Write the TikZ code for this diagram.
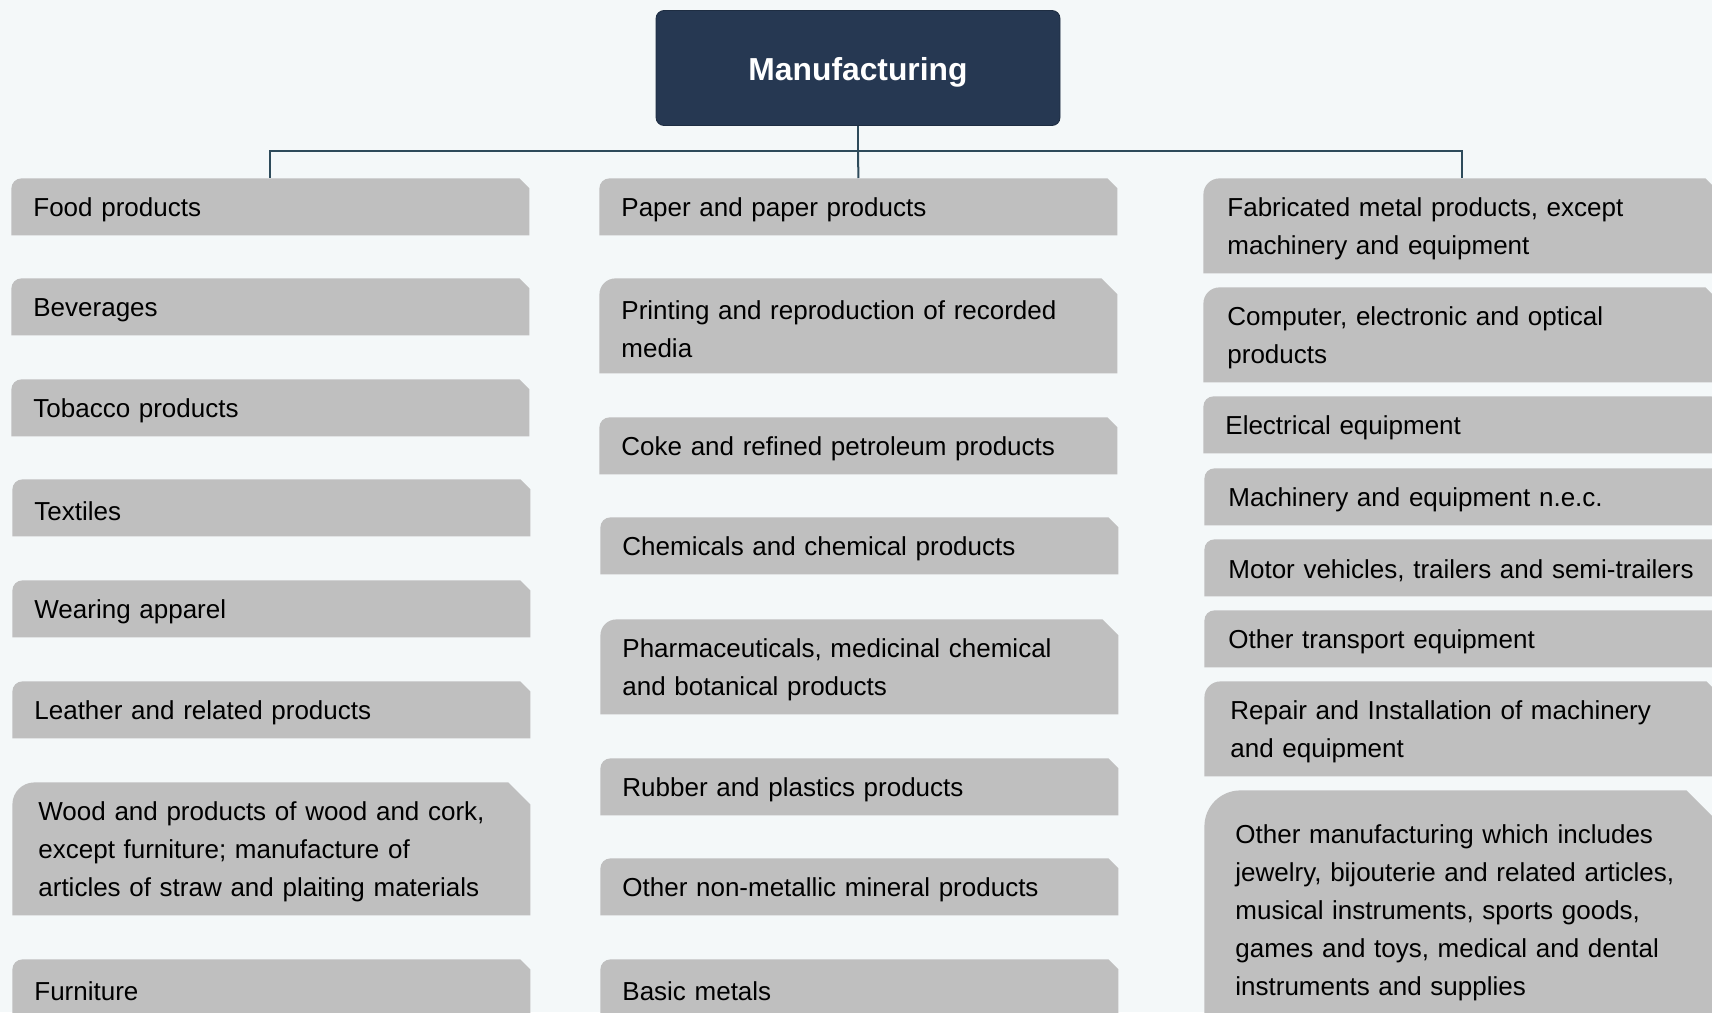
\documentclass[tikz,border=0pt]{standalone}
\usepackage{fontspec}
\setmainfont{Liberation Sans}
\usepackage{tikz}
\definecolor{pagebg}{HTML}{F4F8F9}
\definecolor{boxgray}{HTML}{BFBFBF}
\definecolor{titlecol}{HTML}{263852}
\definecolor{linecol}{HTML}{2E4B5B}
\tikzset{
	snip/.store in=\snipsize, snip=5pt,
	catbox/.style={anchor=north west, inner xsep=11pt, inner ysep=2pt, minimum width=259pt, text width=237pt, text height=12.6pt, align=left, font=\fontsize{13pt}{19pt}\selectfont,
		path picture={\fill[boxgray] (path picture bounding box.south west) -- ([yshift=-\snipsize]path picture bounding box.north west) arc[start angle=180,end angle=90,radius=\snipsize] -- ([xshift=-\snipsize]path picture bounding box.north east) -- ([yshift=-\snipsize]path picture bounding box.north east) -- (path picture bounding box.south east) -- cycle;}},
	rightbox/.style={catbox, inner xsep=12pt, text width=235pt},
	titlebox/.style={fill=titlecol, draw=titlecol!80!black, rounded corners=4pt, minimum width=202pt, minimum height=57.5pt, text height=15.8pt, text=white, font=\bfseries\fontsize{15.9pt}{19pt}\selectfont},
	link/.style={draw=linecol, line width=1pt},
}
\begin{document}
\begin{tikzpicture}[x=0.5pt,y=-0.5pt]
	\clip (0,0) rectangle (1712,1012);
	\fill[pagebg] (0,0) rectangle (1712,1012);
	\node[titlebox] (title) at (858,68) {Manufacturing};
	% left column
	\node[catbox, minimum height=28.5pt] (food) at (11,178) {Food products};
	\node[catbox, minimum height=28.5pt] (bev) at (11,278) {Beverages};
	\node[catbox, minimum height=28.5pt] (tob) at (11,379) {Tobacco products};
	\node[catbox, minimum height=28.5pt] (tex) at (12,479) {Textiles};
	\node[catbox, minimum height=28.5pt] (wear) at (12,580) {Wearing apparel};
	\node[catbox, minimum height=28.5pt] (leath) at (12,681) {Leather and related products};
	\node[catbox, minimum height=66.5pt, snip=11pt, inner xsep=13pt, text width=233pt] (wood) at (12,782) {Wood and products of wood and cork,\\except furniture; manufacture of\\articles of straw and plaiting materials};
	\node[catbox, minimum height=28.5pt] (furn) at (12,959) {Furniture};
	% middle column
	\node[catbox, minimum height=28.5pt] (paper) at (599,178) {Paper and paper products};
	\node[catbox, minimum height=47.5pt, snip=8pt] (print) at (599,278) {Printing and reproduction of recorded\\media};
	\node[catbox, minimum height=28.5pt] (coke) at (599,417) {Coke and refined petroleum products};
	\node[catbox, minimum height=28.5pt] (chem) at (600,517) {Chemicals and chemical products};
	\node[catbox, minimum height=47.5pt, snip=8pt] (pharma) at (600,619) {Pharmaceuticals, medicinal chemical\\and botanical products};
	\node[catbox, minimum height=28.5pt] (rubber) at (600,758) {Rubber and plastics products};
	\node[catbox, minimum height=28.5pt] (nonmet) at (600,858) {Other non-metallic mineral products};
	\node[catbox, minimum height=28.5pt] (basic) at (600,959) {Basic metals};
	% right column
	\node[rightbox, minimum height=47.5pt, snip=8pt] (fab) at (1203,178) {Fabricated metal products, except\\machinery and equipment};
	\node[rightbox, minimum height=47.5pt, snip=8pt] (comp) at (1203,287) {Computer, electronic and optical\\products};
	\node[rightbox, minimum height=28.5pt, inner xsep=11pt, text width=237pt] (elec) at (1203,396) {Electrical equipment};
	\node[rightbox, minimum height=28.5pt] (mach) at (1204,468) {Machinery and equipment n.e.c.};
	\node[rightbox, minimum height=28.5pt] (motor) at (1204,539) {\mbox{Motor vehicles, trailers and semi-trailers}};
	\node[rightbox, minimum height=28.5pt] (otrans) at (1204,610) {Other transport equipment};
	\node[rightbox, minimum height=47.5pt, snip=8pt, inner xsep=13pt, text width=233pt] (repair) at (1204,681) {Repair and Installation of machinery\\and equipment};
	\node[rightbox, minimum height=119pt, snip=18pt, inner xsep=15.5pt, text width=228pt] (othman) at (1204,790) {Other manufacturing which includes\\jewelry, bijouterie and related articles,\\musical instruments, sports goods,\\games and toys, medical and dental\\instruments and supplies};
	% connectors
	\coordinate (bus) at (858,151);
	\draw[link] (title.south) -- (bus) -| (food.north);
	\draw[link] (bus) -| (fab.north);
	\draw[link] (bus) -- (paper.north);
\end{tikzpicture}
\end{document}
